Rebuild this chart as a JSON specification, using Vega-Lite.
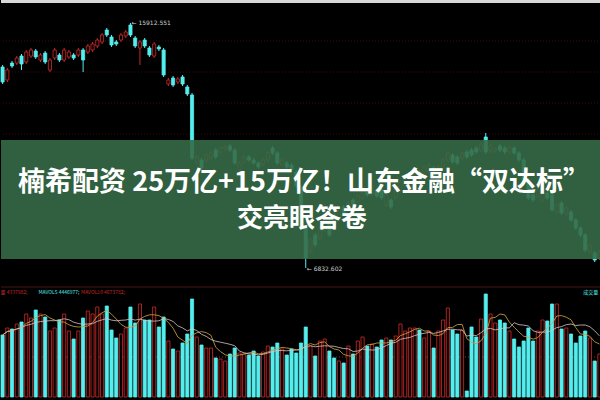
{
"$schema": "https://vega.github.io/schema/vega-lite/v6.json",
"background": "#000000",
"padding": 0,
"spacing": 6,
"config": {"view": {"stroke": null}},
"datasets": {
"k": [
{"i":0,"d":"dn","o":14388,"h":14463,"l":13750,"c":13825,"v":6200000},
{"i":1,"d":"up","o":13900,"h":14350,"l":13825,"c":14275,"v":6900000},
{"i":2,"d":"dn","o":14538,"h":14613,"l":14350,"c":14425,"v":6800000},
{"i":3,"d":"up","o":14538,"h":14800,"l":14463,"c":14725,"v":7300000},
{"i":4,"d":"dn","o":14800,"h":14875,"l":14275,"c":14500,"v":7500000},
{"i":5,"d":"up","o":14575,"h":15025,"l":14500,"c":14950,"v":8300000},
{"i":6,"d":"up","o":14800,"h":15100,"l":14725,"c":15025,"v":7900000},
{"i":7,"d":"dn","o":14988,"h":15063,"l":14688,"c":14763,"v":8700000},
{"i":8,"d":"up","o":14650,"h":14913,"l":14575,"c":14838,"v":8300000},
{"i":9,"d":"dn","o":14913,"h":14988,"l":14500,"c":14575,"v":8000000},
{"i":10,"d":"up","o":14275,"h":14725,"l":14200,"c":14650,"v":6600000},
{"i":11,"d":"up","o":14725,"h":15100,"l":14650,"c":15025,"v":6900000},
{"i":12,"d":"dn","o":14838,"h":14913,"l":14575,"c":14650,"v":7700000},
{"i":13,"d":"up","o":14650,"h":15100,"l":14575,"c":15025,"v":8300000},
{"i":14,"d":"up","o":14763,"h":15025,"l":14688,"c":14950,"v":6600000},
{"i":15,"d":"dn","o":14838,"h":14913,"l":14650,"c":14725,"v":5800000},
{"i":16,"d":"up","o":14838,"h":15100,"l":14763,"c":15025,"v":6600000},
{"i":17,"d":"dn","o":15025,"h":15100,"l":14200,"c":14650,"v":7900000},
{"i":18,"d":"up","o":14950,"h":15250,"l":14875,"c":15175,"v":8600000},
{"i":19,"d":"up","o":15025,"h":15325,"l":14950,"c":15250,"v":8300000},
{"i":20,"d":"up","o":15175,"h":15475,"l":15100,"c":15400,"v":9000000},
{"i":21,"d":"up","o":15325,"h":15663,"l":15250,"c":15588,"v":8300000},
{"i":22,"d":"dn","o":15775,"h":15850,"l":15513,"c":15588,"v":9100000},
{"i":23,"d":"dn","o":15513,"h":15588,"l":15138,"c":15213,"v":6700000},
{"i":24,"d":"dn","o":15325,"h":15400,"l":15175,"c":15250,"v":5900000},
{"i":25,"d":"up","o":15400,"h":15663,"l":15325,"c":15588,"v":6300000},
{"i":26,"d":"up","o":15550,"h":15775,"l":15475,"c":15700,"v":6900000},
{"i":27,"d":"dn","o":15963,"h":16038,"l":15513,"c":15588,"v":9000000},
{"i":28,"d":"dn","o":15475,"h":15550,"l":15100,"c":15175,"v":7400000},
{"i":29,"d":"up","o":15100,"h":15400,"l":14463,"c":15325,"v":9300000},
{"i":30,"d":"dn","o":15400,"h":15475,"l":15100,"c":15175,"v":7700000},
{"i":31,"d":"dn","o":15100,"h":15175,"l":14763,"c":14838,"v":7700000},
{"i":32,"d":"up","o":14800,"h":15325,"l":14725,"c":15250,"v":9000000},
{"i":33,"d":"dn","o":15138,"h":15213,"l":14988,"c":15063,"v":7000000},
{"i":34,"d":"dn","o":15025,"h":15100,"l":14013,"c":14088,"v":8000000},
{"i":35,"d":"up","o":13750,"h":13975,"l":13675,"c":13900,"v":5600000},
{"i":36,"d":"dn","o":13975,"h":14050,"l":13638,"c":13713,"v":4800000},
{"i":37,"d":"up","o":13825,"h":14013,"l":13750,"c":13938,"v":4600000},
{"i":38,"d":"dn","o":14013,"h":14088,"l":13675,"c":13750,"v":5400000},
{"i":39,"d":"dn","o":13638,"h":13713,"l":13300,"c":13375,"v":6300000},
{"i":40,"d":"dn","o":13338,"h":13413,"l":10900,"c":10975,"v":9800000},
{"i":41,"d":"up","o":10825,"h":11088,"l":10750,"c":11013,"v":6000000},
{"i":42,"d":"dn","o":10900,"h":10975,"l":10525,"c":10600,"v":5200000},
{"i":43,"d":"up","o":10900,"h":11163,"l":10825,"c":11088,"v":4900000},
{"i":44,"d":"up","o":10975,"h":11238,"l":10900,"c":11163,"v":4900000},
{"i":45,"d":"dn","o":11275,"h":11350,"l":10938,"c":11013,"v":3900000},
{"i":46,"d":"up","o":11200,"h":11425,"l":11125,"c":11350,"v":3800000},
{"i":47,"d":"up","o":11313,"h":11463,"l":11238,"c":11388,"v":3600000},
{"i":48,"d":"dn","o":11425,"h":11500,"l":11200,"c":11275,"v":4300000},
{"i":49,"d":"dn","o":11275,"h":11350,"l":10713,"c":10788,"v":4900000},
{"i":50,"d":"up","o":10525,"h":10863,"l":10450,"c":10788,"v":4400000},
{"i":51,"d":"up","o":10825,"h":11088,"l":10750,"c":11013,"v":4300000},
{"i":52,"d":"dn","o":11013,"h":11088,"l":10825,"c":10900,"v":4200000},
{"i":53,"d":"dn","o":10900,"h":10975,"l":10713,"c":10788,"v":4600000},
{"i":54,"d":"dn","o":10788,"h":10863,"l":10563,"c":10638,"v":4100000},
{"i":55,"d":"up","o":10750,"h":10975,"l":10675,"c":10900,"v":4500000},
{"i":56,"d":"up","o":10900,"h":11238,"l":10825,"c":11163,"v":5100000},
{"i":57,"d":"dn","o":11350,"h":11425,"l":11088,"c":11163,"v":5000000},
{"i":58,"d":"dn","o":11163,"h":11238,"l":10713,"c":10788,"v":5400000},
{"i":59,"d":"up","o":10713,"h":10975,"l":10638,"c":10900,"v":4800000},
{"i":60,"d":"dn","o":10788,"h":10863,"l":10563,"c":10638,"v":4200000},
{"i":61,"d":"dn","o":10713,"h":10788,"l":10450,"c":10525,"v":4800000},
{"i":62,"d":"dn","o":10450,"h":10525,"l":9850,"c":9925,"v":4400000},
{"i":63,"d":"dn","o":9888,"h":9963,"l":8275,"c":8350,"v":5400000},
{"i":64,"d":"dn","o":8350,"h":8425,"l":6850,"c":7225,"v":7000000},
{"i":65,"d":"up","o":7450,"h":7975,"l":7375,"c":7900,"v":5100000},
{"i":66,"d":"dn","o":8088,"h":8163,"l":7638,"c":7713,"v":4100000},
{"i":67,"d":"up","o":7975,"h":8425,"l":7900,"c":8350,"v":5600000},
{"i":68,"d":"up","o":8275,"h":8725,"l":8200,"c":8650,"v":5800000},
{"i":69,"d":"dn","o":8575,"h":8650,"l":8013,"c":8088,"v":4600000},
{"i":70,"d":"dn","o":8838,"h":8913,"l":8388,"c":8463,"v":3900000},
{"i":71,"d":"up","o":8725,"h":9100,"l":8650,"c":9025,"v":3600000},
{"i":72,"d":"dn","o":9138,"h":9213,"l":8838,"c":8913,"v":3400000},
{"i":73,"d":"up","o":9025,"h":9363,"l":8950,"c":9288,"v":5100000},
{"i":74,"d":"dn","o":9400,"h":9475,"l":9175,"c":9250,"v":4300000},
{"i":75,"d":"up","o":9325,"h":9625,"l":9250,"c":9550,"v":5600000},
{"i":76,"d":"up","o":9475,"h":9738,"l":9400,"c":9663,"v":6000000},
{"i":77,"d":"dn","o":9700,"h":9775,"l":9513,"c":9588,"v":5100000},
{"i":78,"d":"up","o":9625,"h":9925,"l":9550,"c":9850,"v":5300000},
{"i":79,"d":"dn","o":9775,"h":9850,"l":9475,"c":9550,"v":5000000},
{"i":80,"d":"dn","o":9775,"h":9850,"l":9400,"c":9475,"v":5700000},
{"i":81,"d":"up","o":9213,"h":9663,"l":9138,"c":9588,"v":5900000},
{"i":82,"d":"dn","o":9400,"h":9475,"l":9063,"c":9138,"v":5700000},
{"i":83,"d":"up","o":9475,"h":9963,"l":9400,"c":9888,"v":6100000},
{"i":84,"d":"up","o":9775,"h":10150,"l":9700,"c":10075,"v":7300000},
{"i":85,"d":"up","o":9925,"h":10225,"l":9850,"c":10150,"v":6600000},
{"i":86,"d":"up","o":9775,"h":10150,"l":9700,"c":10075,"v":6900000},
{"i":87,"d":"up","o":10038,"h":10413,"l":9963,"c":10338,"v":6900000},
{"i":88,"d":"dn","o":10450,"h":10525,"l":10075,"c":10150,"v":6700000},
{"i":89,"d":"up","o":10413,"h":10713,"l":10338,"c":10638,"v":5900000},
{"i":90,"d":"up","o":10450,"h":10788,"l":10375,"c":10713,"v":6600000},
{"i":91,"d":"dn","o":10600,"h":10675,"l":10225,"c":10300,"v":4900000},
{"i":92,"d":"up","o":10225,"h":10713,"l":10150,"c":10638,"v":6600000},
{"i":93,"d":"up","o":10600,"h":10975,"l":10525,"c":10900,"v":7700000},
{"i":94,"d":"up","o":10900,"h":11238,"l":10825,"c":11163,"v":8900000},
{"i":95,"d":"dn","o":11088,"h":11163,"l":10750,"c":10825,"v":6700000},
{"i":96,"d":"dn","o":11013,"h":11088,"l":10713,"c":10788,"v":6300000},
{"i":97,"d":"up","o":10975,"h":11238,"l":10900,"c":11163,"v":6700000},
{"i":98,"d":"dn","o":11200,"h":11275,"l":10938,"c":11013,"v":600000},
{"i":99,"d":"dn","o":11275,"h":11350,"l":11013,"c":11088,"v":7000000},
{"i":100,"d":"dn","o":11350,"h":11425,"l":11125,"c":11200,"v":6000000},
{"i":101,"d":"up","o":11275,"h":11575,"l":11200,"c":11500,"v":7800000},
{"i":102,"d":"dn","o":11763,"h":11913,"l":11125,"c":11200,"v":10300000},
{"i":103,"d":"up","o":11238,"h":11500,"l":11163,"c":11425,"v":8300000},
{"i":104,"d":"up","o":11238,"h":11388,"l":11163,"c":11313,"v":7400000},
{"i":105,"d":"dn","o":11425,"h":11500,"l":11200,"c":11275,"v":7700000},
{"i":106,"d":"dn","o":11350,"h":11425,"l":11125,"c":11200,"v":7400000},
{"i":107,"d":"up","o":11200,"h":11463,"l":11125,"c":11388,"v":6600000},
{"i":108,"d":"dn","o":11350,"h":11425,"l":11088,"c":11163,"v":5800000},
{"i":109,"d":"dn","o":11163,"h":11238,"l":10825,"c":10900,"v":5000000},
{"i":110,"d":"dn","o":10900,"h":10975,"l":10075,"c":10150,"v":5600000},
{"i":111,"d":"dn","o":10150,"h":10225,"l":9400,"c":9475,"v":6900000},
{"i":112,"d":"dn","o":9588,"h":9663,"l":9325,"c":9400,"v":5600000},
{"i":113,"d":"up","o":9513,"h":9850,"l":9438,"c":9775,"v":6600000},
{"i":114,"d":"up","o":9400,"h":9738,"l":9325,"c":9663,"v":7700000},
{"i":115,"d":"dn","o":9663,"h":9738,"l":9400,"c":9475,"v":7600000},
{"i":116,"d":"dn","o":9588,"h":9663,"l":8950,"c":9025,"v":9300000},
{"i":117,"d":"up","o":8950,"h":9288,"l":8875,"c":9213,"v":9300000},
{"i":118,"d":"dn","o":9288,"h":9363,"l":8838,"c":8913,"v":6800000},
{"i":119,"d":"up","o":8875,"h":9175,"l":8800,"c":9100,"v":6900000},
{"i":120,"d":"dn","o":8950,"h":9025,"l":8575,"c":8650,"v":6300000},
{"i":121,"d":"dn","o":8650,"h":8725,"l":8275,"c":8350,"v":5400000},
{"i":122,"d":"dn","o":8350,"h":8425,"l":8013,"c":8088,"v":6100000},
{"i":123,"d":"dn","o":8088,"h":8163,"l":7450,"c":7525,"v":6600000},
{"i":124,"d":"up","o":7450,"h":7788,"l":7375,"c":7713,"v":5900000},
{"i":125,"d":"dn","o":7413,"h":7488,"l":7075,"c":7150,"v":3600000},
{"i":126,"d":"up","o":7225,"h":7525,"l":7150,"c":7450,"v":4300000}
],
"grid": [{"g":15363},{"g":14200},{"g":13038},{"g":11875},{"g":10713},{"g":9550},{"g":8388},{"g":7225}],
"lab": [{"i":27,"p":16038,"t":"← 15912.551"},{"i":64,"p":6800,"t":"← 6832.602"}],
"leg": [{"i":0,"t":"量 4337982;","k":"a"},{"i":8,"t":"MAVOL5 4446977;","k":"b"},{"i":17,"t":"MAVOL10 4673782;","k":"c"},{"i":123,"t":"成交量","k":"d"}]
},
"vconcat": [
{
"width": 600, "height": 280,
"data": {"name": "k"},
"layer": [
{"data": {"name": "grid"}, "mark": {"type": "rule", "color": "#3a0c0c", "strokeDash": [1, 2], "strokeWidth": 1},
 "encoding": {"y": {"field": "g", "type": "quantitative", "scale": {"domain": [6400, 16900], "nice": false, "zero": false}, "axis": null}}},
{"data": {"values": [{}]}, "mark": {"type": "rect", "color": "#d8d8d8"},
 "encoding": {"y": {"datum": 16900, "type": "quantitative", "scale": {"domain": [6400, 16900], "nice": false, "zero": false}, "axis": null}, "y2": {"datum": 16790}}},
{"mark": {"type": "rule", "strokeWidth": 1},
 "encoding": {
  "x": {"field": "i", "type": "ordinal", "scale": {"paddingInner": 0.34, "paddingOuter": 0}, "axis": null},
  "y": {"field": "l", "type": "quantitative", "scale": {"domain": [6400, 16900], "nice": false, "zero": false}, "axis": null},
  "y2": {"field": "h"},
  "color": {"field": "d", "type": "nominal", "scale": {"domain": ["up", "dn"], "range": ["#c82828", "#55eeee"]}, "legend": null}}},
{"mark": {"type": "bar", "strokeWidth": 0.8},
 "encoding": {
  "x": {"field": "i", "type": "ordinal", "scale": {"paddingInner": 0.34, "paddingOuter": 0}, "axis": null},
  "y": {"field": "o", "type": "quantitative", "scale": {"domain": [6400, 16900], "nice": false, "zero": false}, "axis": null},
  "y2": {"field": "c"},
  "fill": {"field": "d", "type": "nominal", "scale": {"domain": ["up", "dn"], "range": ["#000000", "#55eeee"]}, "legend": null},
  "stroke": {"field": "d", "type": "nominal", "scale": {"domain": ["up", "dn"], "range": ["#d42a2a", "#55eeee"]}, "legend": null}}},
{"data": {"name": "lab"}, "mark": {"type": "text", "align": "left", "baseline": "middle", "dx": 1, "fontSize": 6, "font": "DejaVu Sans", "color": "#cfcfcf"},
 "encoding": {
  "x": {"field": "i", "type": "ordinal", "scale": {"paddingInner": 0.34, "paddingOuter": 0}, "axis": null},
  "y": {"field": "p", "type": "quantitative", "scale": {"domain": [6400, 16900], "nice": false, "zero": false}, "axis": null},
  "text": {"field": "t"}}},
{"data": {"values": [{}]}, "mark": {"type": "rect", "color": "#356a46", "opacity": 0.9},
 "encoding": {"y": {"datum": 11650, "type": "quantitative", "scale": {"domain": [6400, 16900], "nice": false, "zero": false}, "axis": null}, "y2": {"datum": 7188}}},
{"data": {"values": [{}]}, "mark": {"type": "text", "text": "楠希配资 25万亿+15万亿！山东金融“双达标”", "font": "Noto Sans CJK SC", "fontSize": 27, "fontWeight": "bold", "color": "#ffffff", "align": "center", "baseline": "middle", "dx": 3},
 "encoding": {"y": {"datum": 10038, "type": "quantitative", "scale": {"domain": [6400, 16900], "nice": false, "zero": false}, "axis": null}}},
{"data": {"values": [{}]}, "mark": {"type": "text", "text": "交亮眼答卷", "font": "Noto Sans CJK SC", "fontSize": 26, "fontWeight": "bold", "color": "#ffffff", "align": "center", "baseline": "middle", "dx": 1},
 "encoding": {"y": {"datum": 8688, "type": "quantitative", "scale": {"domain": [6400, 16900], "nice": false, "zero": false}, "axis": null}}}
]
},
{
"width": 600, "height": 114,
"data": {"name": "k"},
"layer": [
{"data": {"values": [{}]}, "mark": {"type": "rule", "color": "#4a1414", "strokeWidth": 1},
 "encoding": {"y": {"datum": 11000000, "type": "quantitative", "scale": {"domain": [-400000, 11000000], "nice": false, "zero": false}, "axis": null}}},
{"data": {"values": [{}]}, "mark": {"type": "rule", "color": "#7a3030", "strokeDash": [1, 2], "strokeWidth": 1},
 "encoding": {"y": {"datum": 4000000, "type": "quantitative", "scale": {"domain": [-400000, 11000000], "nice": false, "zero": false}, "axis": null}}},
{"mark": {"type": "bar", "strokeWidth": 0.8},
 "encoding": {
  "x": {"field": "i", "type": "ordinal", "scale": {"paddingInner": 0.34, "paddingOuter": 0}, "axis": null},
  "y": {"field": "v", "type": "quantitative", "scale": {"domain": [-400000, 11000000], "nice": false, "zero": false}, "axis": null},
  "fill": {"field": "d", "type": "nominal", "scale": {"domain": ["up", "dn"], "range": ["#6b1212", "#55eeee"]}, "legend": null},
  "stroke": {"field": "d", "type": "nominal", "scale": {"domain": ["up", "dn"], "range": ["#b82222", "#55eeee"]}, "legend": null}}},
{"transform": [{"window": [{"op": "mean", "field": "v", "as": "m5"}], "frame": [-4, 0], "sort": [{"field": "i"}]}],
 "mark": {"type": "line", "color": "#c9a040", "strokeWidth": 1, "opacity": 0.85},
 "encoding": {
  "x": {"field": "i", "type": "ordinal", "scale": {"paddingInner": 0.34, "paddingOuter": 0}, "axis": null},
  "y": {"field": "m5", "type": "quantitative", "scale": {"domain": [-400000, 11000000], "nice": false, "zero": false}, "axis": null}}},
{"transform": [{"window": [{"op": "mean", "field": "v", "as": "m10"}], "frame": [-9, 0], "sort": [{"field": "i"}]}],
 "mark": {"type": "line", "color": "#d9c4c4", "strokeWidth": 1, "opacity": 0.8},
 "encoding": {
  "x": {"field": "i", "type": "ordinal", "scale": {"paddingInner": 0.34, "paddingOuter": 0}, "axis": null},
  "y": {"field": "m10", "type": "quantitative", "scale": {"domain": [-400000, 11000000], "nice": false, "zero": false}, "axis": null}}},
{"data": {"name": "leg"}, "mark": {"type": "text", "align": "left", "baseline": "middle", "dx": -2, "fontSize": 5, "font": "Noto Sans CJK SC"},
 "encoding": {
  "x": {"field": "i", "type": "ordinal", "scale": {"paddingInner": 0.34, "paddingOuter": 0}, "axis": null},
  "y": {"datum": 10500000, "type": "quantitative", "scale": {"domain": [-400000, 11000000], "nice": false, "zero": false}, "axis": null},
  "text": {"field": "t"},
  "color": {"field": "k", "type": "nominal", "scale": {"domain": ["a", "b", "c", "d"], "range": ["#7fd8d8", "#d8b040", "#d8d8d8", "#bdbdbd"]}, "legend": null}}}
]
}
]
}
